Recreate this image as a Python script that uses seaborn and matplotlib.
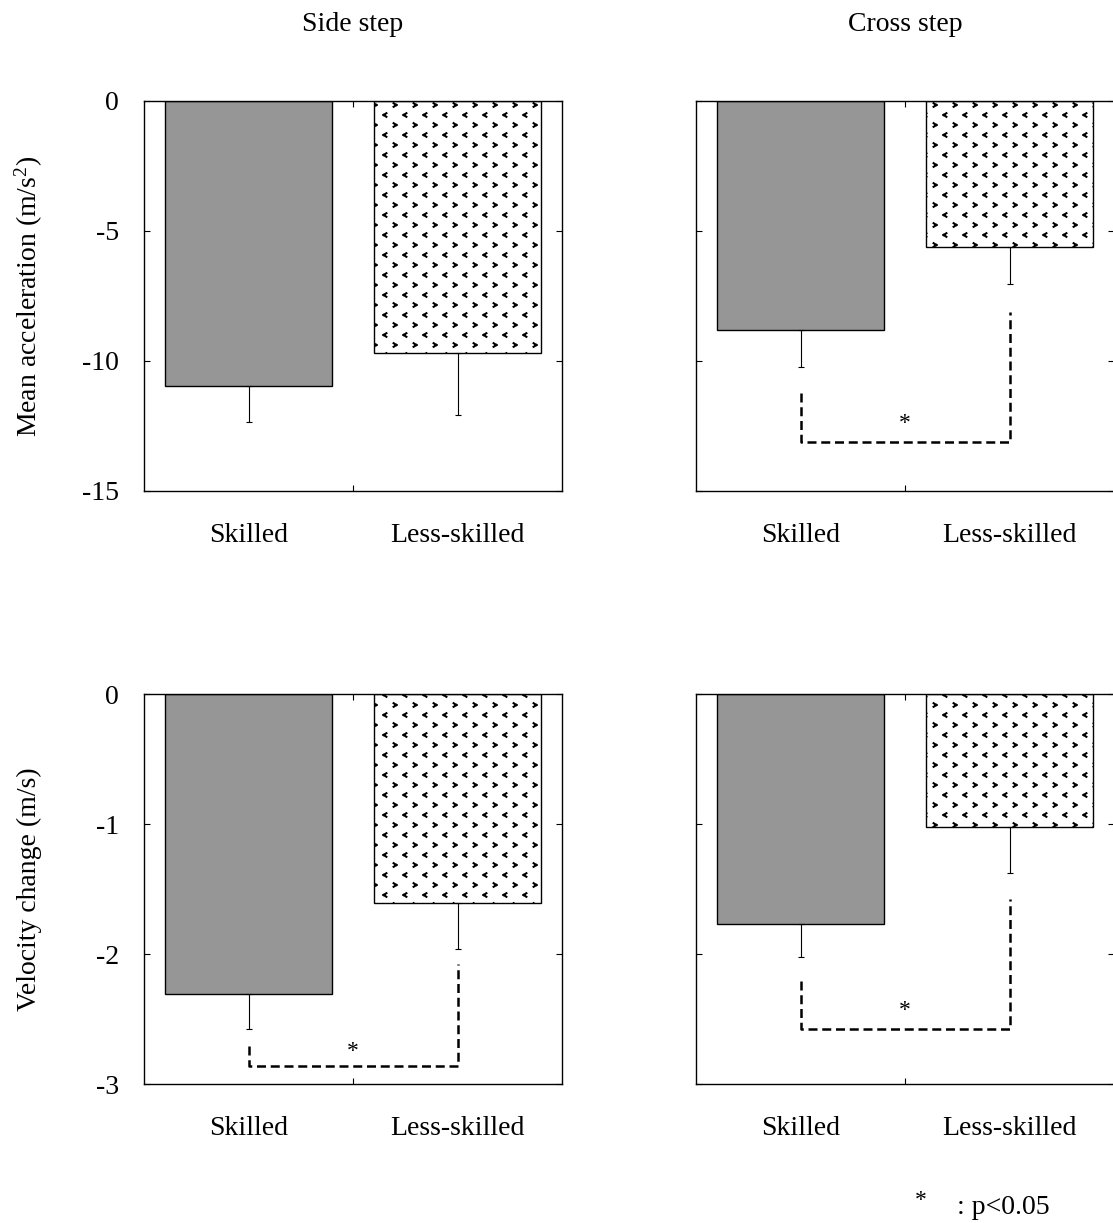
import matplotlib
matplotlib.use("Agg")
import matplotlib.pyplot as plt
import matplotlib.ticker as mticker
import matplotlib.hatch as mhatch
from matplotlib.path import Path
import seaborn as sns
import pandas as pd

# ---------------- data ----------------
groups = ["Skilled", "Less-skilled"]
panel_titles = ["Side step", "Cross step"]
row_labels = ["Mean acceleration (m/s$^2$)", "Velocity change (m/s)"]

side_acc = [-10.96, -9.68]
side_acc_sd = [1.39, 2.41]
cross_acc = [-8.81, -5.60]
cross_acc_sd = [1.42, 1.44]
side_vel = [-2.31, -1.61]
side_vel_sd = [0.27, 0.35]
cross_vel = [-1.77, -1.02]
cross_vel_sd = [0.25, 0.36]

# significance brackets: [left top, right top, bottom, star y]
side_acc_sig = None
cross_acc_sig = [-11.23, -8.10, -13.10, -12.15]
side_vel_sig = [-2.71, -2.08, -2.86, -2.70]
cross_vel_sig = [-2.21, -1.58, -2.58, -2.39]

acc_ticks = [0, -5, -10, -15]
vel_ticks = [0, -1, -2, -3]
footnote_star = "*"
footnote_text = ": p<0.05"


# ---------------- chevron fill pattern ("<" / ">" rows) ----------------
class ChevronHatch(mhatch.HatchPatternBase):
    ncol, nrow = 5, 10

    def __init__(self, hatch, density):
        self.on = "*" in hatch
        self.num_vertices = self.ncol * self.nrow * 4 if self.on else 0

    def set_vertices_and_codes(self, vertices, codes):
        verts, cds = [], []
        w, h = 0.014, 0.018
        for j in range(self.nrow):
            y = (j + 0.5) / self.nrow
            left = (j % 2 == 0)
            for i in range(self.ncol):
                x = (i + 0.25 + (0.0 if left else 0.5)) / self.ncol
                if left:
                    pts = [(x + w, y + h), (x - w, y), (x - w, y), (x + w, y - h)]
                else:
                    pts = [(x - w, y + h), (x + w, y), (x + w, y), (x - w, y - h)]
                verts.extend(pts)
                cds.extend([Path.MOVETO, Path.LINETO, Path.MOVETO, Path.LINETO])
        vertices[:] = verts
        codes[:] = cds


mhatch._hatch_types = [t for t in mhatch._hatch_types
                       if t is not mhatch.Stars] + [ChevronHatch]

# ---------------- style ----------------
sns.set_theme(style="white")
plt.rcParams["font.family"] = ["Liberation Serif", "DejaVu Serif"]
plt.rcParams["mathtext.fontset"] = "custom"
plt.rcParams["mathtext.rm"] = "Liberation Serif"
plt.rcParams["mathtext.it"] = "Liberation Serif:italic"
plt.rcParams["axes.unicode_minus"] = False
plt.rcParams["hatch.linewidth"] = 1.5
for k in ["text.color", "axes.labelcolor", "xtick.color", "ytick.color",
          "axes.edgecolor"]:
    plt.rcParams[k] = "black"

FS = 20
W, H = 1113, 1223
fig = plt.figure(figsize=(W / 100, H / 100), dpi=100)


def rect(left, top, right, bottom):
    return [left / W, (H - bottom) / H, (right - left) / W, (bottom - top) / H]


ax_tl = fig.add_axes(rect(144, 101, 562, 491))
ax_tr = fig.add_axes(rect(696, 101, 1114, 491))
ax_bl = fig.add_axes(rect(144, 694, 562, 1084))
ax_br = fig.add_axes(rect(696, 694, 1114, 1084))

panels = [
    (ax_tl, side_acc, side_acc_sd, side_acc_sig, acc_ticks, True),
    (ax_tr, cross_acc, cross_acc_sd, cross_acc_sig, acc_ticks, False),
    (ax_bl, side_vel, side_vel_sd, side_vel_sig, vel_ticks, True),
    (ax_br, cross_vel, cross_vel_sd, cross_vel_sig, vel_ticks, False),
]

for ax, vals, sds, sig, ticks, show_y in panels:
    df = pd.DataFrame({"group": groups, "value": vals})
    sns.barplot(data=df, x="group", y="value", hue="group",
                palette=["#969696", "white"], width=0.80,
                edgecolor="black", linewidth=1.0, errorbar=None,
                legend=False, ax=ax, zorder=2)
    ax.patches[1].set_hatch("*")
    ax.errorbar([0, 1], vals, yerr=[sds, [0, 0]], fmt="none",
                ecolor="black", elinewidth=0.8, capsize=2.5,
                capthick=0.8, zorder=3)
    if sig is not None:
        lt, rt, bt, sy = sig
        ax.plot([0, 0, 1, 1], [lt, bt, bt, rt], color="black",
                lw=1.8, dashes=(3.6, 1.9), zorder=3)
        ax.annotate("*", xy=(0.5, sy), xytext=(0, -4.5),
                    textcoords="offset points", ha="center", va="center",
                    fontsize=17)
    ax.set_xlim(-0.5, 1.5)
    ax.set_ylim(min(ticks), 0)
    ax.set_yticks(ticks)
    ax.set_yticklabels([str(t) for t in ticks] if show_y else [])
    ax.set_xlabel("")
    ax.set_ylabel("")
    ax.tick_params(axis="y", direction="in", left=True, right=True,
                   length=4, width=0.8, pad=18, labelsize=FS)
    ax.tick_params(axis="x", which="major", length=0, pad=23, labelsize=FS)
    ax.xaxis.set_minor_locator(mticker.FixedLocator([0.5]))
    ax.tick_params(axis="x", which="minor", direction="in", bottom=True,
                   top=True, length=4, width=0.8)
    for s in ax.spines.values():
        s.set_visible(True)
        s.set_color("black")
        s.set_linewidth(1.0)

ax_tl.text(0.5, 1.195, panel_titles[0], transform=ax_tl.transAxes,
           ha="center", va="center", fontsize=FS)
ax_tr.text(0.5, 1.195, panel_titles[1], transform=ax_tr.transAxes,
           ha="center", va="center", fontsize=FS)

fig.text(29 / W, 1 - 296 / H, row_labels[0], rotation=90,
         ha="center", va="center", fontsize=FS)
fig.text(29 / W, 1 - 889 / H, row_labels[1], rotation=90,
         ha="center", va="center", fontsize=FS)

fig.text(921 / W, 1 - 1200 / H, footnote_star, ha="center", va="center",
         fontsize=17)
fig.text(957 / W, 1 - 1208 / H, footnote_text, ha="left", va="center",
         fontsize=FS)

fig.savefig("out.png", dpi=100)
